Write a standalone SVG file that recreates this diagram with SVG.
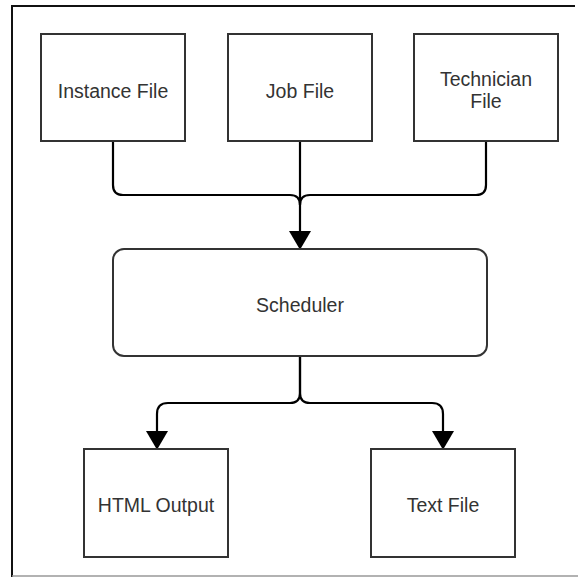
<svg xmlns="http://www.w3.org/2000/svg" width="578" height="577" viewBox="0 0 578 577">
  <defs>
    <marker id="arrow" markerUnits="userSpaceOnUse" markerWidth="20" markerHeight="22" viewBox="0 0 18 21" refX="0" refY="10.5" orient="auto">
      <path d="M0,0 L18,10.5 L0,21 z" fill="#000"/>
    </marker>
  </defs>
  <style>
    .box { fill: #fff; stroke: #333; stroke-width: 2; }
    .lbl { font-family: "Liberation Sans", Arial, sans-serif; font-size: 19.5px; fill: #333; text-anchor: middle; }
    .conn { fill: none; stroke: #000; stroke-width: 2.2; }
  </style>
  <rect x="0" y="0" width="578" height="577" fill="#fff"/>
  <g id="frame">
    <line x1="11" y1="6" x2="575" y2="6" stroke="#111" stroke-width="2"/>
    <line x1="12" y1="5" x2="12" y2="577" stroke="#111" stroke-width="2"/>
    <line x1="12" y1="576" x2="578" y2="576" stroke="#999" stroke-width="1.5"/>
  </g>
  <g id="connectors">
    <path class="conn" d="M113,141 V185 Q113,195 123,195 H290 Q300,195 300,205"/>
    <path class="conn" d="M486,141 V185 Q486,195 476,195 H310 Q300,195 300,205"/>
    <path class="conn" d="M300,141 V231" marker-end="url(#arrow)"/>
    <path class="conn" d="M300,356 V393 Q300,403 290,403 H168 Q157,403 157,414 V431" marker-end="url(#arrow)"/>
    <path class="conn" d="M300,356 V393 Q300,403 310,403 H432 Q443,403 443,414 V431" marker-end="url(#arrow)"/>
  </g>
  <g id="instance-file">
    <rect class="box" x="41" y="34" width="144" height="107"/>
    <text class="lbl" x="113" y="98">Instance File</text>
  </g>
  <g id="job-file">
    <rect class="box" x="228" y="34" width="144" height="107"/>
    <text class="lbl" x="300" y="98">Job File</text>
  </g>
  <g id="technician-file">
    <rect class="box" x="414" y="34" width="144" height="107"/>
    <text class="lbl" x="486" y="86">Technician</text>
    <text class="lbl" x="486" y="108">File</text>
  </g>
  <g id="scheduler">
    <rect class="box" x="113" y="249" width="374" height="107" rx="11" ry="11"/>
    <text class="lbl" x="300" y="312">Scheduler</text>
  </g>
  <g id="html-output">
    <rect class="box" x="84" y="449" width="144" height="108"/>
    <text class="lbl" x="156" y="512">HTML Output</text>
  </g>
  <g id="text-file">
    <rect class="box" x="371" y="449" width="144" height="108"/>
    <text class="lbl" x="443" y="512">Text File</text>
  </g>
</svg>
